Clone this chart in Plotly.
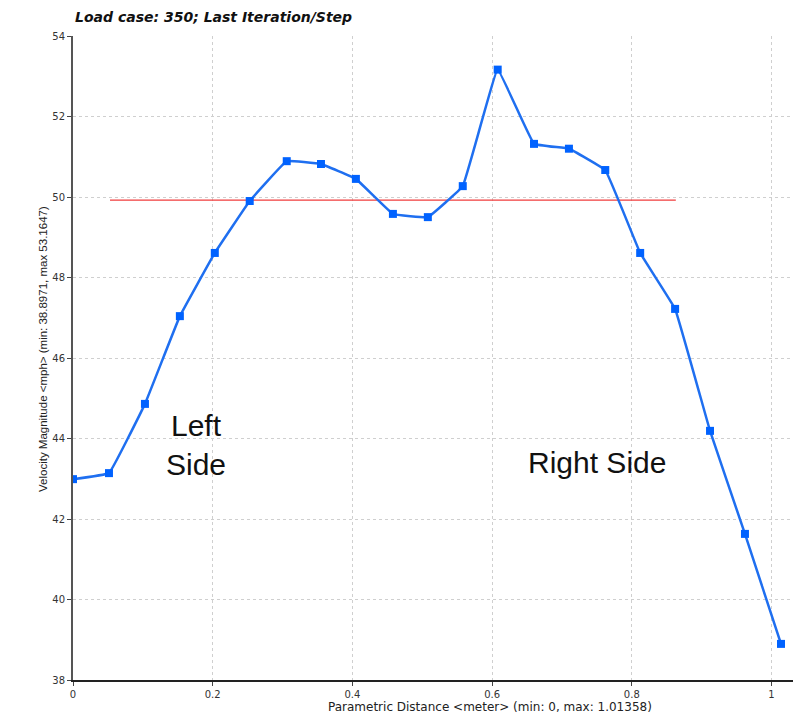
import plotly.graph_objects as go

distance = [0.0, 0.0515, 0.103, 0.153, 0.203, 0.253, 0.306, 0.355, 0.405, 0.458,
            0.508, 0.558, 0.608, 0.660, 0.710, 0.762, 0.812, 0.862, 0.912, 0.962, 1.01358]
velocity = [42.99, 43.14, 44.86, 47.04, 48.61, 49.90, 50.89, 50.82, 50.45, 49.58,
            49.50, 50.27, 53.1647, 51.32, 51.20, 50.67, 48.61, 47.22, 44.19, 41.63, 38.8971]
ref_x = [0.053, 0.863]
ref_y = [49.92, 49.92]

fig = go.Figure()
fig.add_trace(go.Scatter(x=ref_x, y=ref_y, mode="lines",
                         line=dict(color="#f03c3c", width=1.2), hoverinfo="skip"))
fig.add_trace(go.Scatter(x=distance, y=velocity, mode="lines+markers",
                         line=dict(color="#1f6ff0", width=2.5, shape="spline", smoothing=0.2),
                         marker=dict(symbol="square", size=8, color="#0062ff")))

fig.add_annotation(x=0.176, y=43.85, xref="x", yref="y", text="Left<br>Side",
                   showarrow=False, font=dict(family="Liberation Sans", size=30, color="#111111"),
                   align="center")
fig.add_annotation(x=0.75, y=43.4, xref="x", yref="y", text="Right Side",
                   showarrow=False, font=dict(family="Liberation Sans", size=30, color="#111111"))

# axis titles placed as annotations
fig.add_annotation(x=(482 - 65) / 727, y=0, xref="paper", yref="paper",
                   xanchor="center", yanchor="middle", yshift=-27, showarrow=False,
                   text="Parametric Distance &lt;meter&gt; (min: 0, max: 1.01358)",
                   font=dict(family="DejaVu Sans", size=12, color="#222222"))
fig.add_annotation(x=0, y=(672 - 341) / 644, xref="paper", yref="paper",
                   xanchor="center", yanchor="middle", xshift=-30, textangle=-90, showarrow=False,
                   text="Velocity Magnitude &lt;mph&gt; (min: 38.8971, max 53.1647)",
                   font=dict(family="Liberation Sans", size=11.5, color="#222222"))

fig.update_layout(
    width=793, height=710,
    margin=dict(l=65, r=1, t=28, b=38, autoexpand=False),
    paper_bgcolor="white", plot_bgcolor="white",
    showlegend=False,
    title=dict(text="<b><i>Load case: 350; Last Iteration/Step</i></b>",
               x=67/793, xanchor="left", y=1-9/710, yanchor="middle",
               font=dict(family="DejaVu Sans", size=14, color="#111111")),
    xaxis=dict(range=[0, 1.0408], tickvals=[0, 0.2, 0.4, 0.6, 0.8, 1],
               ticktext=["0", "0.2", "0.4", "0.6", "0.8", "1"],
               showgrid=True, gridcolor="#cfcfcf", griddash="dot", gridwidth=1,
               showline=True, linecolor="#222222", linewidth=1.5,
               ticks="outside", ticklen=4, tickcolor="#444444",
               tickfont=dict(family="DejaVu Sans", size=10, color="#333333"),
               zeroline=False, automargin=False),
    yaxis=dict(range=[38, 54], tickvals=[38, 40, 42, 44, 46, 48, 50, 52, 54],
               showgrid=True, gridcolor="#cfcfcf", griddash="dot", gridwidth=1,
               showline=True, linecolor="#555555", linewidth=2,
               ticks="outside", ticklen=4, tickcolor="#444444",
               tickfont=dict(family="DejaVu Sans", size=10, color="#333333"),
               zeroline=False, automargin=False),
)

fig.write_html("out.html")
